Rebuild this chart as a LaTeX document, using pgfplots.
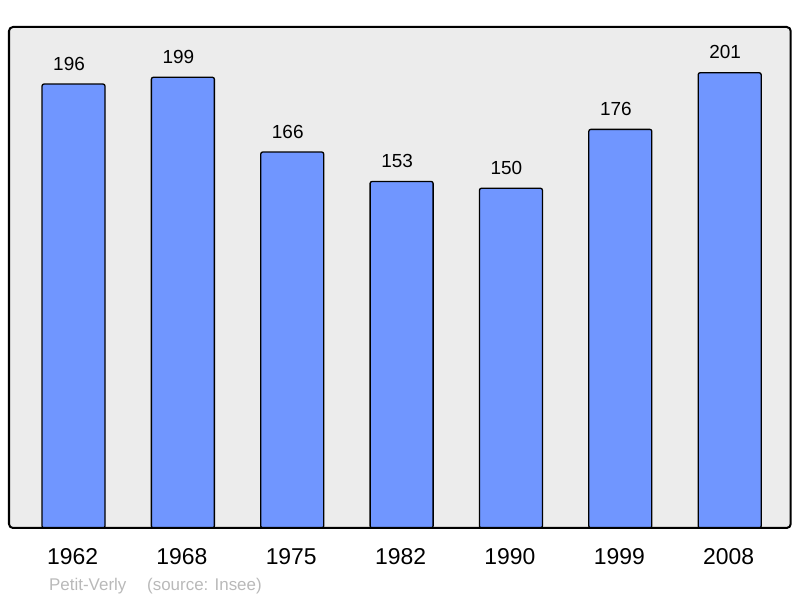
\documentclass[border=0pt]{standalone}
\usepackage{fontspec}
\setmainfont{Liberation Sans}
\usepackage{pgfplots}
\pgfplotsset{compat=1.18}
\definecolor{barblue}{RGB}{112,150,255}
\definecolor{bggray}{RGB}{236,236,236}
\definecolor{srcgray}{RGB}{185,185,185}
\begin{document}
\begin{tikzpicture}
\useasboundingbox (0bp,0bp) rectangle (800bp,598bp);
\begin{axis}[
    at={(9bp,70bp)}, anchor=south west,
    scale only axis, width=781.7bp, height=501bp,
    xmin=-0.59, xmax=6.558, ymin=0, ymax=221.2,
    axis line style={draw=none},
    ytick=\empty,
    xtick=data,
    xticklabels={1962,1968,1975,1982,1990,1999,2008},
    major tick length=0pt,
    xticklabel style={anchor=base, inner sep=0pt, yshift=-37bp, xshift=-1bp,
        font=\fontsize{23}{27}\selectfont},
    ybar, bar width=63bp,
    nodes near coords,
    every node near coord/.append style={anchor=base, inner sep=0pt,
        yshift=14bp, xshift=-4.5bp, font=\fontsize{19}{23}\selectfont, text=black},
    /pgf/number format/assume math mode=true,
    clip=false,
]
\fill[bggray, rounded corners=4bp] (rel axis cs:0,0) rectangle (rel axis cs:1,1);
\addplot[draw=black, fill=barblue, line width=1.3bp, rounded corners=2bp] coordinates {
    (0,196) (1,199) (2,166) (3,153) (4,150) (5,176) (6,201)
};
\draw[black, line width=2bp, rounded corners=4bp] (rel axis cs:0,0) rectangle (rel axis cs:1,1);
\end{axis}
\node[anchor=base west, inner sep=0pt, text=srcgray, font=\fontsize{17}{20}\selectfont] at (49bp,8bp) {Petit-Verly};
\node[anchor=base west, inner sep=0pt, text=srcgray, font=\fontsize{17}{20}\selectfont] at (147bp,8bp) {(source: Insee)};
\end{tikzpicture}
\end{document}
